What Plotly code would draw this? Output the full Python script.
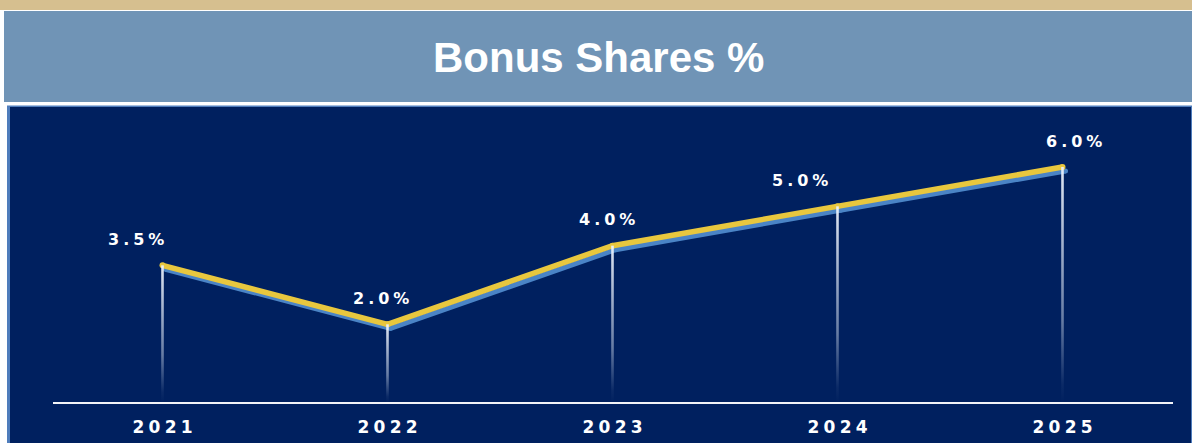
import plotly.graph_objects as go

# ---- data ----
years = ["2021", "2022", "2023", "2024", "2025"]
bonus_pct = [3.5, 2.0, 4.0, 5.0, 6.0]
title_text = "Bonus Shares %"

# ---- styling / layout constants ----
FIG_W, FIG_H = 1192, 443
L, R, T, B = 50, 17, 108, 40
W = FIG_W - L - R
H = FIG_H - T - B
X_RANGE = [-0.5, 4.5]
Y_RANGE = [0, 7.5]
NAVY = "#00205F"
YELLOW = "#E8C73E"
SHADOW = "#4A84C6"
label_xshift = [-27, -7, -6, -38, 11]   # pixel nudges of value labels
SP = "\u2005"


def fx(px):
    return (px - L) / W


def fy(py):
    return (T + H - py) / H


x_idx = list(range(len(years)))
ux = (X_RANGE[1] - X_RANGE[0]) / W   # data units per px
uy = (Y_RANGE[1] - Y_RANGE[0]) / H
sh_dx, sh_dy = 3, 4
drop_half_w = 1.3 * ux

fig = go.Figure()

# shadow line on the base axes (range shifted so it appears offset)
fig.add_trace(go.Scatter(x=x_idx, y=bonus_pct, mode="lines+markers",
                         line=dict(color=SHADOW, width=5),
                         marker=dict(color=SHADOW, size=5),
                         hoverinfo="skip", showlegend=False,
                         xaxis="x", yaxis="y"))

# main yellow line on overlay axes
fig.add_trace(go.Scatter(x=x_idx, y=bonus_pct, mode="lines+markers",
                         line=dict(color=YELLOW, width=5.5),
                         marker=dict(color=YELLOW, size=6),
                         showlegend=False, xaxis="x2", yaxis="y2"))

# fading drop lines (thin vertical gradient strips)
for xi, v in zip(x_idx, bonus_pct):
    fig.add_trace(go.Scatter(
        x=[xi - drop_half_w, xi + drop_half_w, xi + drop_half_w, xi - drop_half_w],
        y=[0, 0, v, v], mode="none", fill="toself",
        fillgradient=dict(type="vertical", colorscale=[
            [0.0, "rgba(228,236,248,0)"],
            [0.08, "rgba(228,236,248,0.05)"],
            [0.35, "rgba(228,236,248,0.45)"],
            [1.0, "rgba(236,242,252,0.95)"]]),
        hoverinfo="skip", showlegend=False, xaxis="x2", yaxis="y2"))

# value labels
for xi, v, dx in zip(x_idx, bonus_pct, label_xshift):
    fig.add_annotation(x=xi, y=v, xref="x2", yref="y2",
                       text=SP.join(f"{v:.1f}%"), showarrow=False,
                       xshift=dx, yshift=26, yanchor="middle",
                       font=dict(family="DejaVu Sans", size=16,
                                 color="white", weight="bold"))

# title
fig.add_annotation(x=fx(598), y=fy(57), xref="paper", yref="paper",
                   text=title_text, showarrow=False,
                   xanchor="center", yanchor="middle",
                   font=dict(family="Liberation Sans, Arial", size=42,
                             color="white", weight="bold"))

shapes = [
    # tan strip
    dict(type="rect", xref="paper", yref="paper", x0=fx(0), x1=fx(FIG_W),
         y0=fy(0), y1=fy(10), fillcolor="#D6BF8F", line=dict(width=0),
         layer="below"),
    # banner
    dict(type="rect", xref="paper", yref="paper", x0=fx(4), x1=fx(FIG_W),
         y0=fy(11), y1=fy(102), fillcolor="#7094B6", line=dict(width=0),
         layer="below"),
    # panel border
    dict(type="rect", xref="paper", yref="paper", x0=fx(7), x1=fx(FIG_W),
         y0=fy(105.5), y1=fy(FIG_H), fillcolor="#4F7DBC", line=dict(width=0),
         layer="below"),
    # navy panel
    dict(type="rect", xref="paper", yref="paper", x0=fx(10), x1=fx(1191),
         y0=fy(107), y1=fy(FIG_H), fillcolor=NAVY, line=dict(width=0),
         layer="below"),
    # axis line
    dict(type="line", xref="paper", yref="paper", x0=fx(53), x1=fx(1173),
         y0=fy(403), y1=fy(403), line=dict(color="#F2F4F8", width=2)),
]

tick_text = [SP.join(y) for y in years]

fig.update_layout(
    width=FIG_W, height=FIG_H,
    margin=dict(l=L, r=R, t=T, b=B, pad=0, autoexpand=False),
    paper_bgcolor="white", plot_bgcolor="rgba(0,0,0,0)",
    shapes=shapes,
    showlegend=False,
    xaxis=dict(range=[X_RANGE[0] - sh_dx * ux, X_RANGE[1] - sh_dx * ux],
               visible=False, fixedrange=True, automargin=False),
    yaxis=dict(range=[Y_RANGE[0] + sh_dy * uy, Y_RANGE[1] + sh_dy * uy],
               visible=False, fixedrange=True, automargin=False),
    xaxis2=dict(range=X_RANGE, overlaying="x", anchor="y2", side="bottom",
                tickvals=x_idx, ticktext=tick_text, showgrid=False,
                zeroline=False, showline=False, ticks="",
                ticklabelstandoff=12, automargin=False,
                tickfont=dict(family="DejaVu Sans", size=17, color="white",
                              weight="bold"),
                fixedrange=True),
    yaxis2=dict(range=Y_RANGE, overlaying="y", anchor="x2", visible=False,
                fixedrange=True, automargin=False),
)

fig.write_html("out.html", config={"displayModeBar": False},
               post_script="document.body.style.margin='0';"
                           "document.body.style.overflow='hidden';")
